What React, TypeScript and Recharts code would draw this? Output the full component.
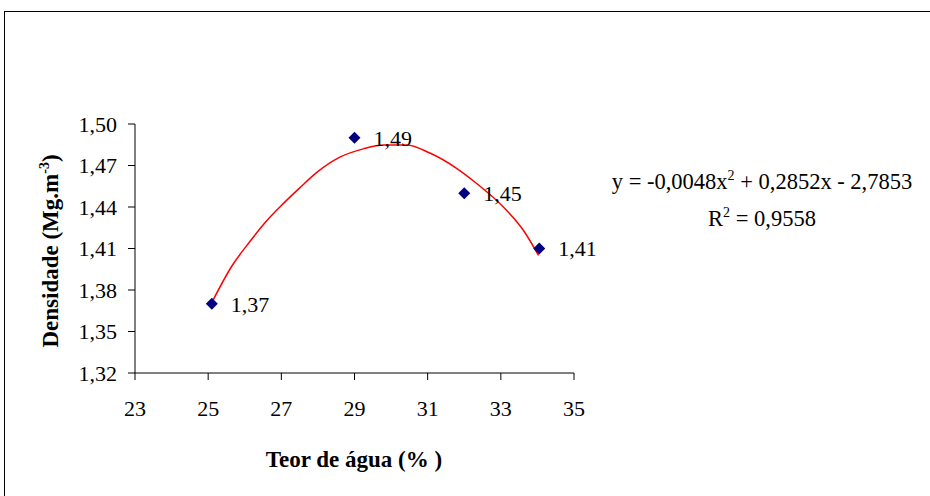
import { ComposedChart, Line, Scatter, XAxis, YAxis } from 'recharts';

const waterContent = [25.1, 29, 32, 34.05];
const density = [1.37, 1.49, 1.45, 1.41];
const pointLabels = ['1,37', '1,49', '1,45', '1,41'];

// trend curve
const trendX = [25.14, 25.64, 26.14, 26.6, 26.96, 27.51, 27.97, 28.6, 29.24, 29.8, 30.43, 31.06, 31.79, 32.34, 33.07, 33.62, 34.03];
const trendY = [1.373, 1.397, 1.415, 1.43, 1.44, 1.454, 1.465, 1.476, 1.482, 1.4848, 1.4848, 1.479, 1.468, 1.457, 1.44, 1.423, 1.405];

const xTicks = [23, 25, 27, 29, 31, 33, 35];
const yTicks = [1.32, 1.35, 1.38, 1.41, 1.44, 1.47, 1.5];

const points = waterContent.map((x, i) => ({ x, y: density[i], label: pointLabels[i] }));
const trend = trendX.map((x, i) => ({ x, y: trendY[i] }));

const font = '"Liberation Serif", "Times New Roman", serif';

const Diamond = (props: any) => {
  const { cx, cy, payload } = props;
  const r = 6;
  return (
    <g>
      <path d={`M${cx},${cy - r}L${cx + r},${cy}L${cx},${cy + r}L${cx - r},${cy}Z`} fill="#000080" />
      <text x={cx + 19} y={cy} dy="0.35em" fontSize={22} fontFamily={font} fill="#000">
        {payload.label}
      </text>
    </g>
  );
};

export default function App() {
  return (
    <div style={{ position: 'absolute', left: 0, top: 0, width: 930, height: 496, background: '#fff', overflow: 'hidden' }}>
      <div style={{ position: 'absolute', left: 4, top: 11, width: 940, height: 500, border: '1px solid #000' }} />
      <ComposedChart width={930} height={496} margin={{ top: 124, right: 356, bottom: 63, left: 75 }}>
        <XAxis
          type="number"
          dataKey="x"
          domain={[23, 35]}
          ticks={xTicks}
          tickSize={7}
          tickMargin={20}
          stroke="#000"
          tick={{ fill: '#000', fontSize: 22, fontFamily: font }}
          height={60}
        />
        <YAxis
          type="number"
          dataKey="y"
          domain={[1.32, 1.5]}
          ticks={yTicks}
          tickSize={7}
          tickMargin={11}
          stroke="#000"
          width={60}
          tick={{ fill: '#000', fontSize: 22, fontFamily: font }}
          tickFormatter={(v: number) => v.toFixed(2).replace('.', ',')}
        />
        <Line data={trend} dataKey="y" type="monotone" stroke="#ff0000" strokeWidth={1.5} dot={false} isAnimationActive={false} />
        <Scatter data={points} dataKey="y" shape={Diamond} isAnimationActive={false} />
      </ComposedChart>
      <svg width={930} height={496} style={{ position: 'absolute', left: 0, top: 0, pointerEvents: 'none' }} fontFamily={font}>
        <text transform="translate(58,251) rotate(-90)" textAnchor="middle" fontSize={23} fontWeight="bold" fill="#000">
          Densidade (Mg.m<tspan dy={-9} fontSize={14}>-3</tspan><tspan dy={9}>)</tspan>
        </text>
        <text x={354} y={467} textAnchor="middle" fontSize={23} fontWeight="bold" fill="#000">
          Teor de água (% )
        </text>
        <text x={762} y={189} textAnchor="middle" fontSize={22.5} fill="#000">
          y = -0,0048x<tspan dy={-9} fontSize={14}>2</tspan><tspan dy={9}> + 0,2852x - 2,7853</tspan>
        </text>
        <text x={762} y={226} textAnchor="middle" fontSize={22.5} fill="#000">
          R<tspan dy={-9} fontSize={14}>2</tspan><tspan dy={9}> = 0,9558</tspan>
        </text>
      </svg>
    </div>
  );
}
